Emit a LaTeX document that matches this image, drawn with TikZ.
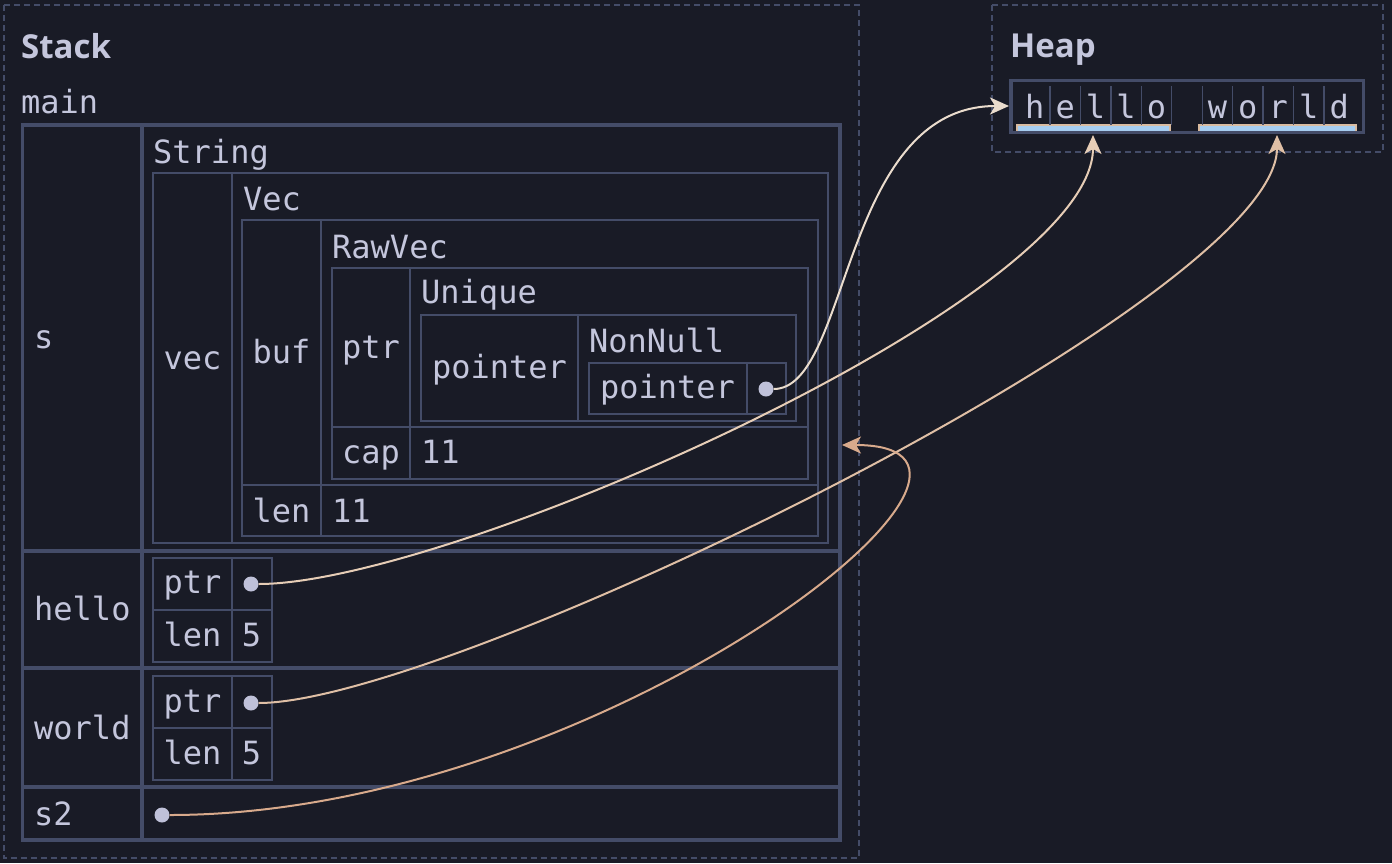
\documentclass[tikz,border=0pt]{standalone}
\usepackage{fontspec}
\setmonofont{DejaVu Sans Mono}
\newfontfamily\headfont{Open Sans}
\usetikzlibrary{arrows.meta,positioning}

\definecolor{bgc}{HTML}{191B26}
\definecolor{framec}{HTML}{444C68}
\definecolor{inkc}{HTML}{C4C6DC}
\definecolor{dotc}{HTML}{BFC1D9}
\definecolor{hlfill}{HTML}{A6CDF0}
\definecolor{hlline}{HTML}{D9BBA0}
\definecolor{arrA}{HTML}{EADCCD}
\definecolor{arrB}{HTML}{E6CDB6}
\definecolor{arrC}{HTML}{DFBFA5}
\definecolor{arrD}{HTML}{D8AA8C}

\tikzset{
	fieldlbl/.style={anchor=base west, inner sep=0pt, text=inkc, font=\ttfamily\fontsize{32}{38}\selectfont},
	fieldmid/.style={fieldlbl, anchor=base},
	heading/.style={anchor=base west, inner sep=0pt, text=inkc, font=\headfont\bfseries\fontsize{33}{40}\selectfont},
	tblouter/.style={draw=framec, line width=3.3pt},
	tblinner/.style={draw=framec, line width=2pt},
	regionbox/.style={draw=framec, line width=1.5pt, dash pattern=on 6pt off 4pt},
	ptrdot/.style={circle, fill=dotc, inner sep=0pt, minimum size=15pt},
	ptrline/.style={line width=2pt, -{Stealth[length=19pt,width=17pt,inset=5pt]}},
}

\begin{document}
\begin{tikzpicture}[x=1pt, y=-1pt]
	\useasboundingbox (0,0) rectangle (1392,863);
	\fill[bgc] (0,0) rectangle (1392,863);

	\draw[regionbox] (4,5) rectangle (859,858);
	\draw[regionbox] (992,5) rectangle (1383,152);
	\draw (21,58) node [heading] (stack) {Stack};
	\draw (1010,57) node [heading] (heap) {Heap};
	\draw (21,113) node [fieldlbl] (main) {main};

	\draw[tblouter] (22.5,125) rectangle (840,840);
	\draw[tblouter] (142,125) -- (142,840);
	\draw[tblouter] (22.5,551) -- (840,551);
	\draw[tblouter] (22.5,668) -- (840,668);
	\draw[tblouter] (22.5,787) -- (840,787);

	\draw[tblinner] (153,173) rectangle (828,543);
	\draw[tblinner] (232,173) -- (232,543);
	\draw[tblinner] (242,220) rectangle (818,536);
	\draw[tblinner] (321,220) -- (321,536);
	\draw[tblinner] (242,485) -- (818,485);
	\draw[tblinner] (332,268) rectangle (807.5,479);
	\draw[tblinner] (410,268) -- (410,479);
	\draw[tblinner] (332,427) -- (807.5,427);
	\draw[tblinner] (421,315) rectangle (796,421);
	\draw[tblinner] (578,315) -- (578,421);
	\draw[tblinner] (589,363) rectangle (786,414);
	\draw[tblinner] (747,363) -- (747,414);
	\draw[tblinner] (153,558) rectangle (272,662);
	\draw[tblinner] (232,558) -- (232,662);
	\draw[tblinner] (153,610) -- (272,610);
	\draw[tblinner] (153,676) rectangle (272,780);
	\draw[tblinner] (232,676) -- (232,780);
	\draw[tblinner] (153,728) -- (272,728);

	\draw (34,348) node [fieldlbl] (s) {s};
	\draw (34,620) node [fieldlbl] (hello) {hello};
	\draw (34,739) node [fieldlbl] (world) {world};
	\draw (34,825) node [fieldlbl] (s2) {s2};
	\draw (153,163) node [fieldlbl] (string) {String};
	\draw (192.5,369) node [fieldmid] (vec) {vec};
	\draw (243,210) node [fieldlbl] (vecty) {Vec};
	\draw (281.5,363) node [fieldmid] (buf) {buf};
	\draw (281.5,522) node [fieldmid] (veclen) {len};
	\draw (332,522) node [fieldlbl] (veclenv) {11};
	\draw (332,258) node [fieldlbl] (rawvec) {RawVec};
	\draw (371,358) node [fieldmid] (rvptr) {ptr};
	\draw (371,463) node [fieldmid] (rvcap) {cap};
	\draw (421,463) node [fieldlbl] (rvcapv) {11};
	\draw (421,303) node [fieldlbl] (unique) {Unique};
	\draw (499.5,378) node [fieldmid] (uqptr) {pointer};
	\draw (589,352) node [fieldlbl] (nonnull) {NonNull};
	\draw (667.5,398) node [fieldmid] (nnptr) {pointer};
	\draw (192.5,593) node [fieldmid] (hptr) {ptr};
	\draw (192.5,646) node [fieldmid] (hlen) {len};
	\draw (251.5,646) node [fieldmid] (hlenv) {5};
	\draw (192.5,712) node [fieldmid] (wptr) {ptr};
	\draw (192.5,764) node [fieldmid] (wlen) {len};
	\draw (251.5,764) node [fieldmid] (wlenv) {5};

	\draw[hlline, fill=hlfill, line width=1.5pt] (1017,125) rectangle (1170,132);
	\draw[hlline, fill=hlfill, line width=1.5pt] (1199,125) rectangle (1356,132);
	\draw[framec, line width=3.4pt] (1011,80.5) rectangle (1363.5,132.5);
	\foreach \i in {1,...,10}
		\draw[framec, line width=1.3pt] (1019.5+30.45*\i,86) -- (1019.5+30.45*\i,125);
	\foreach \c [count=\i from 0] in {h,e,l,l,o,{},w,o,r,l,d}
		\draw (1019.5+30.45*\i+15.2,118) node [fieldmid] (ch\i) {\c};

	\coordinate (heapin) at (1009,106);
	\coordinate (helloin) at (1093,135);
	\coordinate (worldin) at (1277,135);
	\coordinate (s2in) at (842,445);

	\draw (766,389) node [ptrdot] (nndot) {};
	\draw (251,584) node [ptrdot] (hdot) {};
	\draw (251,703) node [ptrdot] (wdot) {};
	\draw (162,815) node [ptrdot] (s2dot) {};

	\draw[ptrline, arrA] (nndot) .. controls +(84,0) and +(-168,0) .. (heapin);
	\draw[ptrline, arrB] (hdot) .. controls +(199,0) and +(0,164) .. (helloin);
	\draw[ptrline, arrC] (wdot) .. controls +(199,0) and +(0,164) .. (worldin);
	\draw[ptrline, arrD] (s2dot) .. controls +(438,0) and +(230,0) .. (s2in);
\end{tikzpicture}
\end{document}
